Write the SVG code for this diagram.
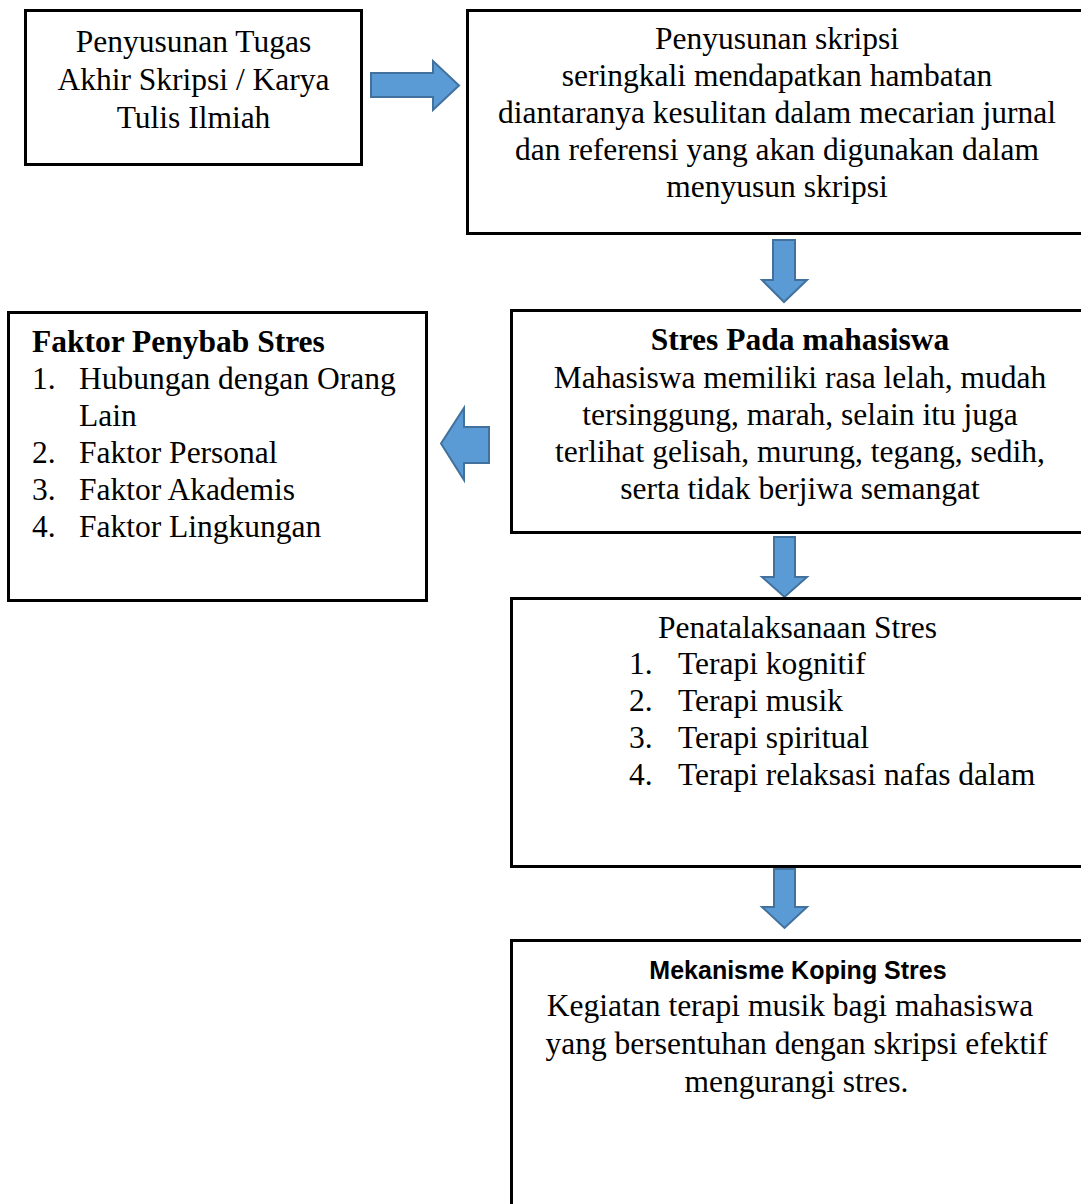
<svg xmlns="http://www.w3.org/2000/svg" width="1081" height="1204" viewBox="0 0 1081 1204">
<style>
.box{fill:#fff;stroke:#000;stroke-width:3}
.arr{fill:#5B9BD5;stroke:#41719C;stroke-width:2;stroke-linejoin:miter}
text{font-family:"Liberation Serif","Times New Roman",serif;font-size:31.5px;fill:#000}
.c{text-anchor:middle}
.b{font-weight:bold}
.sans{font-family:"Liberation Sans",Arial,sans-serif;font-size:25px;font-weight:bold}
</style>
<rect width="1081" height="1204" fill="#fff"/>
<g id="connectors">
<path class="arr" d="M371,73 H433 V61 L459,85.5 L433,110 V97 H371 Z"/>
<path class="arr" d="M773,240 H795 V280 H807 L784,302 L762,280 H773 Z"/>
<path class="arr" d="M489,427 V463 H464 V480 L441,443.5 L464,408 V427 Z"/>
<path class="arr" d="M774,537 H795 V577 H807 L784.5,597 L762,577 H774 Z"/>
<path class="arr" d="M774,869 H795 V907 H807 L784.5,928 L762,907 H774 Z"/>
</g>
<g id="node-tugas">
<rect class="box" x="25.5" y="10.5" width="336" height="154"/>
<text class="c" x="193.5" y="52">Penyusunan Tugas</text>
<text class="c" x="193.5" y="90">Akhir Skripsi / Karya</text>
<text class="c" x="193.5" y="128">Tulis Ilmiah</text>
</g>
<g id="node-hambatan">
<rect class="box" x="467.5" y="10.5" width="630" height="223"/>
<text class="c" x="777" y="49">Penyusunan skripsi</text>
<text class="c" x="777" y="86">seringkali mendapatkan hambatan</text>
<text class="c" x="777" y="123">diantaranya kesulitan dalam mecarian jurnal</text>
<text class="c" x="777" y="160">dan referensi yang akan digunakan dalam</text>
<text class="c" x="777" y="197">menyusun skripsi</text>
</g>
<g id="node-stres">
<rect class="box" x="511.5" y="310.5" width="590" height="222"/>
<text class="c b" x="800" y="350">Stres Pada mahasiswa</text>
<text class="c" x="800" y="388">Mahasiswa memiliki rasa lelah, mudah</text>
<text class="c" x="800" y="425">tersinggung, marah, selain itu juga</text>
<text class="c" x="800" y="462">terlihat gelisah, murung, tegang, sedih,</text>
<text class="c" x="800" y="499">serta tidak berjiwa semangat</text>
</g>
<g id="node-faktor">
<rect class="box" x="8.5" y="312.5" width="418" height="288"/>
<text class="b" x="32" y="352">Faktor Penybab Stres</text>
<text x="32" y="389">1.</text><text x="79" y="389">Hubungan dengan Orang</text>
<text x="79" y="426">Lain</text>
<text x="32" y="463">2.</text><text x="79" y="463">Faktor Personal</text>
<text x="32" y="500">3.</text><text x="79" y="500">Faktor Akademis</text>
<text x="32" y="537">4.</text><text x="79" y="537">Faktor Lingkungan</text>
</g>
<g id="node-penatalaksanaan">
<rect class="box" x="511.5" y="598.5" width="590" height="268"/>
<text x="658" y="638">Penatalaksanaan Stres</text>
<text x="629" y="674">1.</text><text x="678" y="674">Terapi kognitif</text>
<text x="629" y="711">2.</text><text x="678" y="711">Terapi musik</text>
<text x="629" y="748">3.</text><text x="678" y="748">Terapi spiritual</text>
<text x="629" y="785">4.</text><text x="678" y="785">Terapi relaksasi nafas dalam</text>
</g>
<g id="node-koping">
<rect class="box" x="511.5" y="940.5" width="590" height="300"/>
<text class="c sans" x="798" y="979">Mekanisme Koping Stres</text>
<text class="c" x="790" y="1016">Kegiatan terapi musik bagi mahasiswa</text>
<text class="c" x="796.5" y="1054">yang bersentuhan dengan skripsi efektif</text>
<text class="c" x="796.5" y="1092">mengurangi stres.</text>
</g>
</svg>
